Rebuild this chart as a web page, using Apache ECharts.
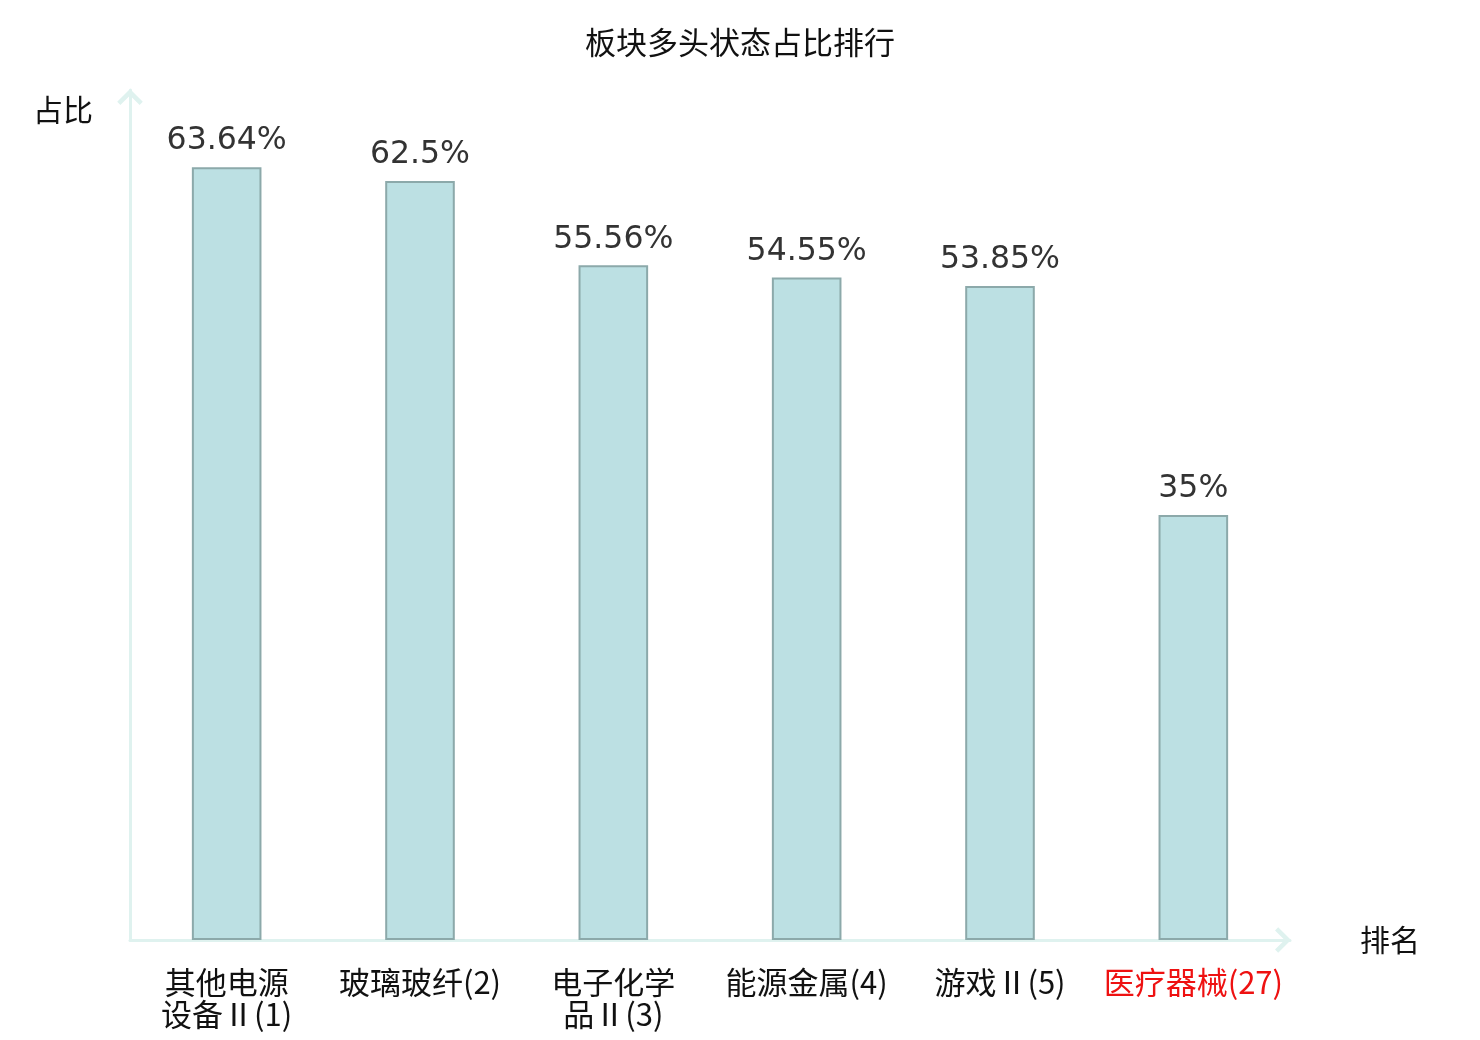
<!DOCTYPE html>
<html lang="zh">
<head>
    <meta charset="UTF-8">
    <title>板块多头状态占比排行</title>
    <style>
        html, body { margin: 0; padding: 0; background: #fff; }
        #main { width: 1480px; height: 1040px; }
    </style>
</head>
<body>
<div id="main"></div>
<script src="https://cdn.jsdelivr.net/npm/echarts@6/dist/echarts.min.js"></script>
<script type="text/javascript">
    // 板块名称（括号内为排名）
    const sectors = ['其他电源设备Ⅱ(1)', '玻璃玻纤(2)', '电子化学品Ⅱ(3)', '能源金属(4)', '游戏Ⅱ(5)', '医疗器械(27)'];
    // 多头状态占比 %
    const ratios = [63.64, 62.5, 55.56, 54.55, 53.85, 35];
    // 需要标红的板块
    const highlight = '医疗器械(27)';

    const chart = echarts.init(document.getElementById('main'));

    const cjk = '"Noto Sans CJK SC", "Noto Sans", sans-serif';
    const lineColor = '#dff2ef';
    // 开口箭头
    const arrow = 'path://M0,10 L10,0 L20,10 L17.5,12.5 L10,5 L2.5,12.5 Z';

    chart.setOption({
        title: {
            text: '板块多头状态占比排行',
            left: 'center',
            top: 22,
            textStyle: { fontFamily: cjk, fontSize: 31, fontWeight: 'normal', color: '#111' }
        },
        grid: { left: 130, right: 190, top: 90, bottom: 100 },
        xAxis: {
            type: 'category',
            data: sectors.map(s => s === highlight ? { value: s, textStyle: { color: '#ee1111' } } : s),
            name: '排名',
            nameLocation: 'end',
            nameGap: 70,
            nameTextStyle: { fontFamily: cjk, fontSize: 30, color: '#111' },
            axisLine: {
                lineStyle: { color: lineColor, width: 3 },
                symbol: ['none', arrow],
                symbolSize: [26, 16],
                symbolOffset: [0, -7]
            },
            axisTick: { show: false },
            axisLabel: {
                interval: 0,
                margin: 26,
                fontFamily: cjk,
                fontSize: 31,
                lineHeight: 32,
                color: '#111',
                formatter: s => s.length > 8 ? s.slice(0, 4) + '\n' + s.slice(4) : s
            }
        },
        yAxis: {
            type: 'value',
            min: 0,
            max: 70,
            name: '占比',
            nameLocation: 'end',
            nameGap: -35,
            nameTextStyle: { fontFamily: cjk, fontSize: 30, color: '#111', align: 'right', padding: [0, 37, 0, 0] },
            axisLine: {
                show: true,
                lineStyle: { color: lineColor, width: 3 },
                symbol: ['none', arrow],
                symbolSize: [26, 16],
                symbolOffset: [0, -7]
            },
            axisTick: { show: false },
            axisLabel: { show: false },
            splitLine: { show: false }
        },
        series: [{
            type: 'bar',
            data: ratios,
            barWidth: '36%',
            itemStyle: { color: '#bce0e3', borderColor: '#8ca9aa', borderWidth: 2 },
            label: {
                show: true,
                position: 'top',
                distance: 10,
                fontFamily: '"DejaVu Sans", sans-serif',
                fontSize: 31.5,
                color: '#333',
                formatter: p => p.value + '%'
            }
        }]
    });
</script>
</body>
</html>
